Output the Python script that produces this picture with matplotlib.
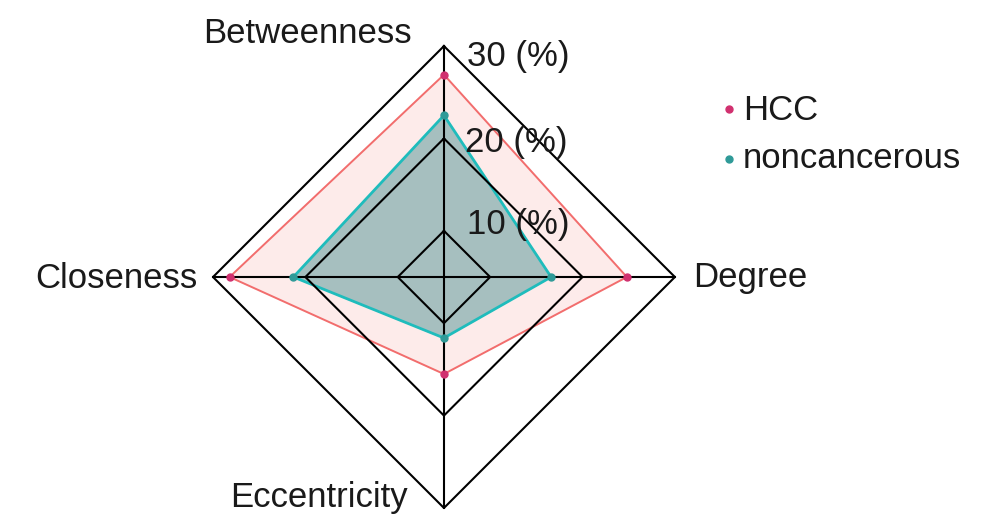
import numpy as np
import matplotlib
matplotlib.use("Agg")
import matplotlib.pyplot as plt
from matplotlib.lines import Line2D

plt.rcParams['font.family'] = ['Liberation Sans', 'DejaVu Sans']

# Centrality measures (percent)
categories = ["Betweenness", "Degree", "Eccentricity", "Closeness"]
hcc = [26.9, 24.8, 15.5, 28.2]
noncancerous = [22.5, 16.6, 11.6, 21.3]
ring_values = [10, 20, 30]
ring_labels = ["10 (%)", "20 (%)", "30 (%)"]
series_names = ["HCC", "noncancerous"]
series_colors = ['#d1306f', '#2f9a98']

r_min, r_max = 5, 30
W, H = 987, 515

fig = plt.figure(figsize=(W / 100, H / 100), dpi=100)
ax = fig.add_axes([0.2158, 0.0136, 0.468, 0.897], projection='polar')
ax.set_theta_zero_location('N')
ax.set_theta_direction(-1)
ax.set_ylim(r_min, r_max)
ax.spines['polar'].set_visible(False)
ax.grid(False)
ax.set_xticks([])
ax.set_yticks([])
ax.patch.set_alpha(0)

angles = np.deg2rad([0, 90, 180, 270])
closed = np.append(angles, angles[0])

def close(vals):
    return list(vals) + [vals[0]]

# HCC polygon
ax.fill(closed, close(hcc), color='#fdebea', zorder=1, clip_on=False)
ax.plot(closed, close(hcc), color='#f26d6d', lw=1.4, zorder=2, clip_on=False)

# noncancerous polygon
ax.fill(closed, close(noncancerous), color='#a6bfbf', zorder=3, clip_on=False)
ax.plot(closed, close(noncancerous), color='#1fbcbc', lw=2.0, zorder=4, clip_on=False)

# diamond grid and spokes
for v in ring_values:
    ax.plot(closed, [v] * 5, color='black', lw=1.5, zorder=5, clip_on=False)
for a in angles:
    ax.plot([a, a], [r_min, r_max], color='black', lw=1.5, zorder=5, clip_on=False)

# markers
ax.plot(angles, hcc, ls='', marker='o', ms=5, color=series_colors[0], zorder=6, clip_on=False)
ax.plot(angles, noncancerous, ls='', marker='o', ms=5, color=series_colors[1], zorder=6, clip_on=False)

fs = 25
txt = '#1a1a1a'
# ring labels along the top spoke
label_offsets = [(23, -3), (21, -14), (23, -20)]
for v, lab, off in zip(ring_values, ring_labels, label_offsets):
    ax.annotate(lab, xy=(0, v), xytext=off, textcoords='offset pixels',
                ha='left', va='baseline', fontsize=fs, color=txt, zorder=7,
                annotation_clip=False)

# category labels
cat_specs = [
    ((-32, 3), 'right'),
    ((18, -10), 'left'),
    ((-36, 1), 'right'),
    ((-15, -11), 'right'),
]
for a, name, (off, ha) in zip(angles, categories, cat_specs):
    ax.annotate(name, xy=(a, r_max), xytext=off, textcoords='offset pixels',
                ha=ha, va='baseline', fontsize=fs, color=txt,
                annotation_clip=False)

# legend: dot followed by series name
legend_rows = [(109, 120), (159, 168)]  # (dot y, text baseline y) in pixels from top
for name, color, (dot_y, base_y) in zip(series_names, series_colors, legend_rows):
    fig.add_artist(Line2D([729 / W], [1 - dot_y / H], transform=fig.transFigure,
                          ls='', marker='o', ms=5, color=color))
    fig.text(743 / W, 1 - base_y / H, name, ha='left', va='baseline',
             fontsize=fs, color=txt)

fig.savefig('out.png', dpi=100)
